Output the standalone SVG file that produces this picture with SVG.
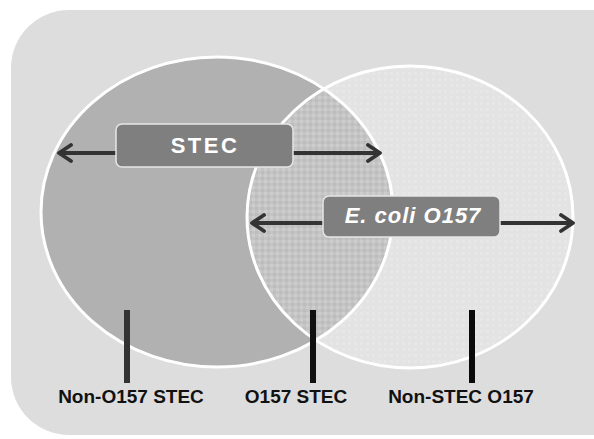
<svg xmlns="http://www.w3.org/2000/svg" width="594" height="439" viewBox="0 0 594 439">
<style>
.ring{fill:none;stroke:#ffffff;stroke-width:3}
.box{fill:#7f7f7f;stroke:#e6e6e6;stroke-width:1.5}
.boxt{font-family:"Liberation Sans",Arial,sans-serif;font-weight:bold;font-size:22px;fill:#ffffff;text-anchor:middle}
.lbl{font-family:"Liberation Sans",Arial,sans-serif;font-weight:bold;font-size:19px;fill:#111111;text-anchor:middle}
.arr{fill:none;stroke:#333333;stroke-width:4}
.bar{stroke-width:6}
</style>
<defs>
<marker id="ah" viewBox="0 0 16 20" refX="14" refY="10" markerWidth="16" markerHeight="20" markerUnits="userSpaceOnUse" orient="auto-start-reverse">
<path d="M2,2 L14,10 L2,18" fill="none" stroke="#333333" stroke-width="3.8" stroke-linejoin="round" stroke-linecap="round"/>
</marker>
<pattern id="lensTex" width="6" height="6" patternUnits="userSpaceOnUse">
<rect width="6" height="6" fill="#c4c4c4"/>
<rect x="0" y="0" width="3" height="3" fill="#cdcdcd"/>
<rect x="3" y="3" width="3" height="3" fill="#bdbdbd"/>
</pattern>
<pattern id="rightTex" width="6" height="6" patternUnits="userSpaceOnUse">
<rect width="6" height="6" fill="#e3e3e3"/>
<rect x="0" y="0" width="3" height="3" fill="#e7e7e7"/>
</pattern>
<clipPath id="leftClip"><ellipse cx="217" cy="212" rx="176" ry="155"/></clipPath>
</defs>
<rect x="11" y="10" width="640" height="425" rx="58" fill="#dddddd"/>
<g id="non-o157-stec-circle">
<ellipse cx="217" cy="212" rx="176" ry="155" fill="#b1b1b1"/>
</g>
<g id="e-coli-o157-circle">
<ellipse cx="410" cy="217" rx="163" ry="151" fill="url(#rightTex)"/>
</g>
<g id="o157-stec-lens">
<ellipse cx="410" cy="217" rx="163" ry="151" fill="url(#lensTex)" clip-path="url(#leftClip)"/>
</g>
<g id="outlines">
<ellipse class="ring" cx="217" cy="212" rx="176" ry="155"/>
<ellipse class="ring" cx="410" cy="217" rx="163" ry="151"/>
</g>
<g id="connectors">
<line class="arr" x1="59" y1="153" x2="380" y2="153" marker-start="url(#ah)" marker-end="url(#ah)"/>
<line class="arr" x1="252" y1="223" x2="573" y2="223" marker-start="url(#ah)" marker-end="url(#ah)"/>
<line class="bar" x1="127" y1="310" x2="127" y2="383" stroke="#333333"/>
<line class="bar" x1="313" y1="310" x2="313" y2="383" stroke="#111111"/>
<line class="bar" x1="472" y1="310" x2="472" y2="383" stroke="#0a0a0a"/>
</g>
<g id="stec-node">
<rect class="box" x="116" y="124" width="177" height="43" rx="6"/>
<text class="boxt" x="205" y="153" font-size="23" letter-spacing="2.5">STEC</text>
</g>
<g id="ecoli-node">
<rect class="box" x="323" y="196" width="177" height="41" rx="6"/>
<text class="boxt" x="413" y="223" font-style="italic" letter-spacing="1">E. coli O157</text>
</g>
<g id="label-non-o157-stec">
<text class="lbl" x="131" y="403">Non-O157 STEC</text>
</g>
<g id="label-o157-stec">
<text class="lbl" x="296" y="403">O157 STEC</text>
</g>
<g id="label-non-stec-o157">
<text class="lbl" x="461" y="403">Non-STEC O157</text>
</g>
</svg>
